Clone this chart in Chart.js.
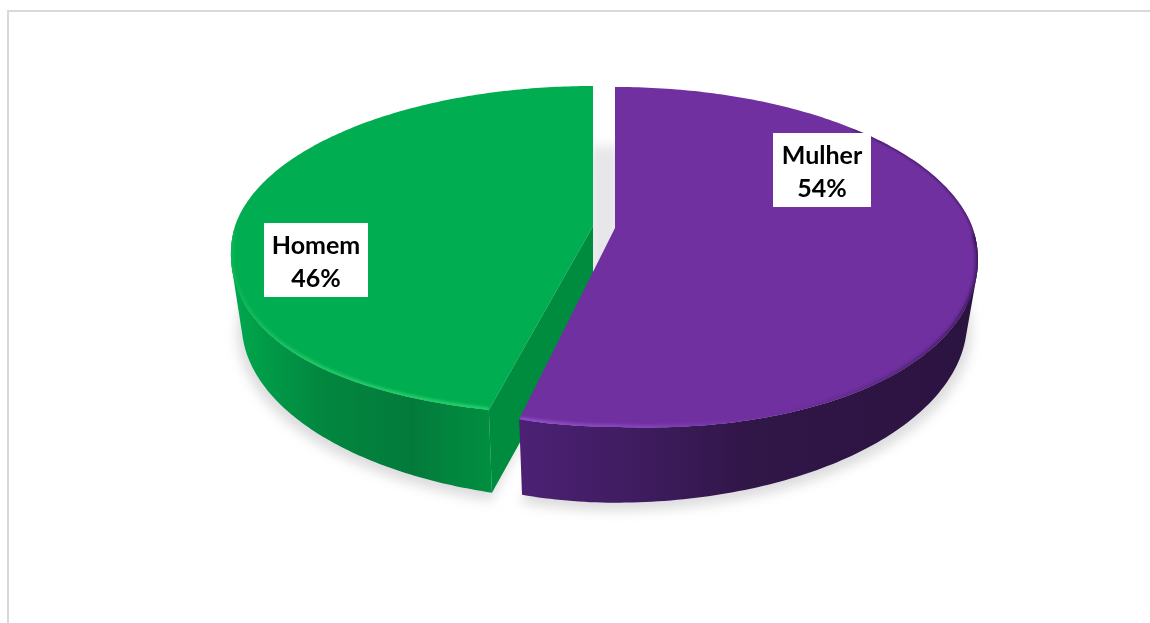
<!DOCTYPE html>
<html lang="pt">
<head>
<meta charset="utf-8">
<style>
html,body{margin:0;padding:0;background:#fff;overflow:hidden}
#box{position:absolute;left:0;top:0;width:1150px;height:623px}
</style>
<script src="https://cdn.jsdelivr.net/npm/chart.js@4"></script>
</head>
<body>
<div id="box"><canvas id="c" width="1150" height="623"></canvas></div>
<script>
const categories = ['Mulher', 'Homem'];
const percentValues = [54, 46];
const sliceColors = ['#7030A0', '#00AD50'];

const geometry = [
  {cx:615, cy:228, a:357.7, aLeft:322, b:165, p:0.17, d:63, shrink:0.03, label:[822,171], boxW:98, boxTop:133,
   bulge:(u,v)=> u>0 && v>0 ? 18*u*v : 0},
  {cx:593, cy:226, a:358, aLeft:358, b:161, p:0.15, d:72, shrink:0.03, label:[316,261], boxW:104, boxTop:223,
   bulge:(u,v)=> v>0 ? 25*u*u*v : 0}
];
const wallStops = [
  [[0,'#4c2175'],[0.25,'#3f1c60'],[0.5,'#311648'],[1,'#2b1340']],
  [[0,'#00a84e'],[0.35,'#02873f'],[0.7,'#037a3b'],[0.85,'#02853e'],[1,'#008e40']]
];
const rimStops = [
  [[0,'#9350cc'],[0.3,'#8240b8'],[0.55,'rgba(112,48,160,0.6)'],[1,'rgba(60,25,90,0.9)']],
  [[0,'#0fb558'],[0.3,'#20cb66'],[1,'#26d26e']]
];

function proj(S, ang, z){
  const u = Math.cos(ang), v = Math.sin(ang), s = 1/(1 - S.p*v);
  const a = u < 0 ? S.aLeft : S.a;
  return [S.cx + a*u*s*(1 - S.shrink*z), S.cy + S.b*v*s + z*S.d*s + (1-z)*S.bulge(u,v)];
}
const STEPS = 220;
function arcPoints(S, a0, a1, z){
  const pts = [];
  for(let i=0;i<=STEPS;i++) pts.push(proj(S, a0 + (a1-a0)*i/STEPS, z));
  return pts;
}
function gradient(ctx, x0, x1, stops){
  const g = ctx.createLinearGradient(x0,0,x1,0);
  stops.forEach(s => g.addColorStop(s[0], s[1]));
  return g;
}
function tracePoly(ctx, pts){
  pts.forEach((p,i) => i ? ctx.lineTo(p[0],p[1]) : ctx.moveTo(p[0],p[1]));
  ctx.closePath();
}
function traceLine(ctx, pts){
  ctx.beginPath();
  pts.forEach((p,i) => i ? ctx.lineTo(p[0],p[1]) : ctx.moveTo(p[0],p[1]));
}
function signedArea(q){
  let t = 0;
  q.forEach((p,i) => { const r = q[(i+1)%q.length]; t += p[0]*r[1]-r[0]*p[1]; });
  return t;
}

const pie3d = {
  id:'pie3d',
  beforeDatasetDraw(chart, args){
    const ctx = chart.ctx;
    const arcs = chart.getDatasetMeta(args.index).data;
    ctx.save();

    // frame of the picture
    ctx.fillStyle = '#d9d9d9';
    ctx.fillRect(7,10,1143,2);
    ctx.fillRect(7,10,2,613);

    // soft ground shadow
    ctx.save();
    ctx.filter = 'blur(6px)';
    ctx.fillStyle = '#dcdcde';
    arcs.forEach((el,i) => {
      const S = geometry[i];
      const outline = [[S.cx,S.cy+S.d]].concat(arcPoints(S, el.startAngle, el.endAngle, 1));
      ctx.beginPath();
      tracePoly(ctx, outline.map(p => [S.cx+(p[0]-S.cx)*1.012, p[1]+8]));
      ctx.fill();
    });
    const Sm = geometry[0], Sf = geometry[1];
    ctx.fillStyle = '#e6e6e8';
    ctx.fillRect(Sf.cx-2, Sm.cy-82, Sm.cx-Sf.cx+4, 200);
    ctx.restore();

    // painter's order: the far slice first
    [1,0].forEach(i => {
      const el = arcs[i], S = geometry[i];
      const a0 = el.startAngle, a1 = el.endAngle;
      const angAt = k => a0+(a1-a0)*k/STEPS;
      const top = arcPoints(S, a0, a1, 0), bot = arcPoints(S, a0, a1, 1);
      const minX = Math.min(...top.map(p=>p[0]));
      const maxX = Math.max(...top.map(p=>p[0]));
      const x0 = i===0 ? proj(S,a1,0)[0] : minX;
      const x1 = i===0 ? maxX : proj(S,a0,0)[0];

      // outer wall: every quad wound the same way so overlaps never cancel
      ctx.beginPath();
      for(let k=0;k<top.length-1;k++){
        if(Math.sin(angAt(k)) < 0.02) continue;
        let q = [top[k],top[k+1],bot[k+1],bot[k]];
        if(signedArea(q) < 0) q = q.slice().reverse();
        tracePoly(ctx, q);
      }
      ctx.fillStyle = gradient(ctx, x0, x1, wallStops[i]);
      ctx.fill();

      // cut face of the near slice
      if(i===1){
        const c0=[S.cx,S.cy], c1=[S.cx,S.cy+S.d*1.18], e0=proj(S,a0,0), e1=proj(S,a0,1);
        ctx.beginPath();
        tracePoly(ctx,[c0,e0,e1,c1]);
        ctx.fillStyle='#008C3E';
        ctx.fill();
      }

      // top face
      const face = [[S.cx,S.cy]].concat(top);
      ctx.beginPath();
      tracePoly(ctx, face);
      ctx.fillStyle = el.options.backgroundColor;
      ctx.fill();

      // bevel on the rim, clipped to the top face
      ctx.save();
      ctx.beginPath();
      tracePoly(ctx, face);
      ctx.clip();
      ctx.lineJoin='round';
      ctx.filter='blur(1.4px)';
      ctx.lineWidth=5;
      ctx.strokeStyle = gradient(ctx, x0, x1, rimStops[i]);
      traceLine(ctx, top.filter((p,k) => Math.sin(angAt(k)) > 0.03));
      ctx.stroke();
      if(i===0){
        ctx.filter='blur(0.8px)';
        ctx.lineWidth=3;
        ctx.strokeStyle='rgba(50,20,80,0.6)';
        traceLine(ctx, top.filter((p,k) => { const t=angAt(k); return t>-0.75 && t<0.1; }));
        ctx.stroke();
      }
      ctx.restore();
    });

    // data labels
    ctx.textAlign='center';
    ctx.textBaseline='middle';
    ctx.font='bold 25px Lato, Carlito, sans-serif';
    const sum = percentValues.reduce((a,b)=>a+b,0);
    categories.forEach((name,i)=>{
      const S = geometry[i], x = S.label[0], y = S.label[1];
      ctx.fillStyle='#fff';
      ctx.fillRect(x-S.boxW/2, S.boxTop, S.boxW, 74);
      ctx.fillStyle='#000';
      ctx.fillText(name, x, y-15);
      ctx.fillText(Math.round(percentValues[i]/sum*100)+'%', x, y+18);
    });
    ctx.restore();
    return false;
  }
};

new Chart(document.getElementById('c'),{
  type:'pie',
  data:{labels:categories,datasets:[{data:percentValues,backgroundColor:sliceColors,borderWidth:0}]},
  options:{
    responsive:false,
    animation:false,
    devicePixelRatio:1,
    plugins:{legend:{display:false},tooltip:{enabled:false}}
  },
  plugins:[pie3d]
});
</script>
</body>
</html>
